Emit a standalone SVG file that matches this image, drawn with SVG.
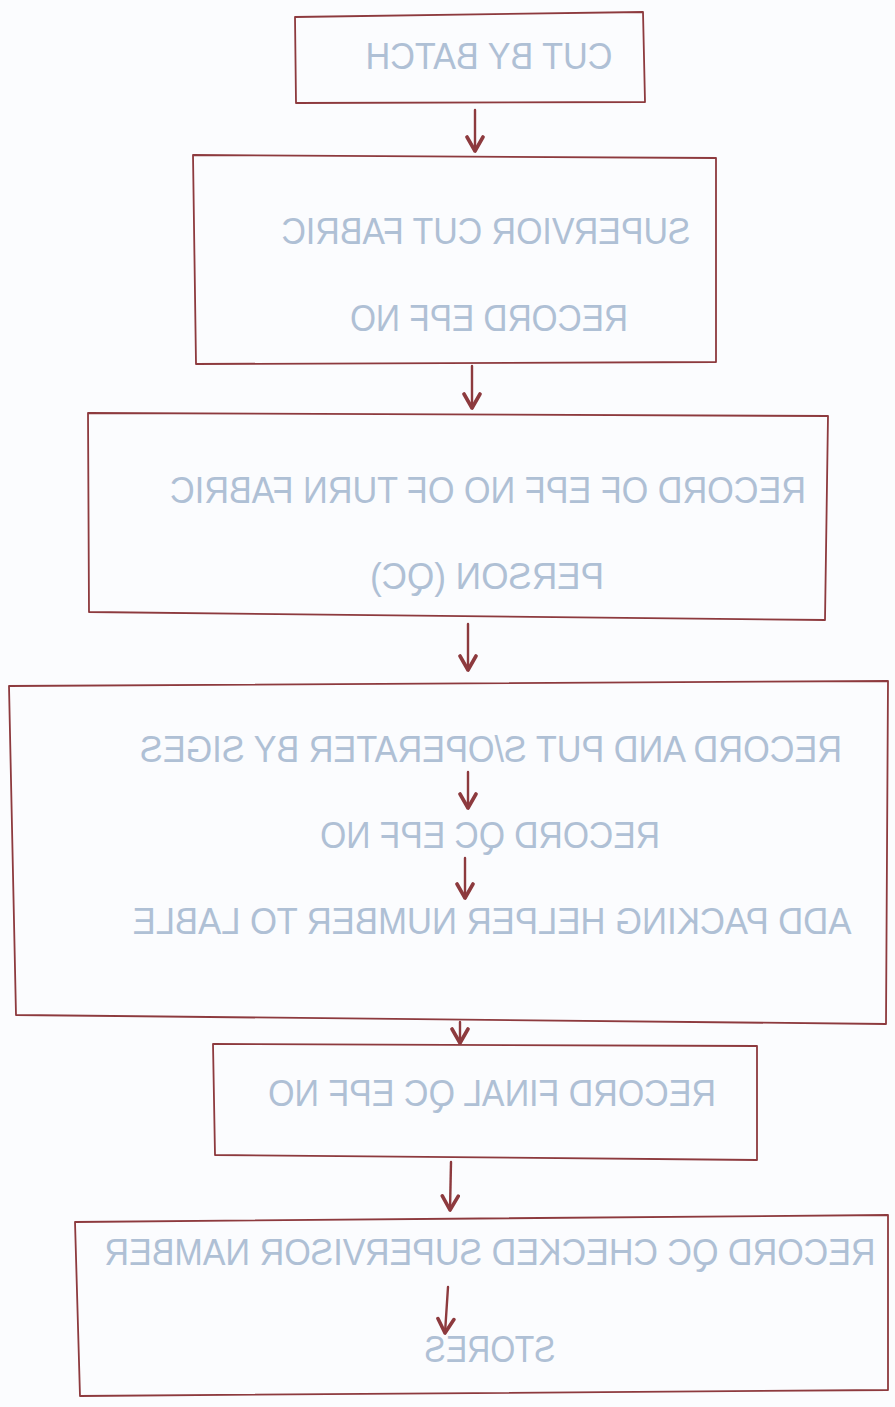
<svg xmlns="http://www.w3.org/2000/svg" width="895" height="1407" viewBox="0 0 895 1407">
<defs>
<style>
.bx{fill:none;stroke:#8d3a3e;stroke-width:1.8;stroke-linejoin:round}
.cn{fill:none;stroke:#8d3a3e;stroke-width:2.4;stroke-linecap:round}
.t{font-family:"Liberation Sans",Arial,sans-serif;font-size:36px;fill:#afc0d5;text-anchor:middle}
</style>
<marker id="ah" viewBox="0 0 20 20" refX="17" refY="10" markerWidth="20" markerHeight="20" markerUnits="userSpaceOnUse" orient="auto">
<polyline points="3,2 17,10 3,18" fill="none" stroke="#8d3a3e" stroke-width="3.6" stroke-linecap="round" stroke-linejoin="round"/>
</marker>
</defs>
<rect width="895" height="1407" fill="#fbfcfe"/>
<g id="connectors">
<line class="cn" x1="475" y1="110" x2="475" y2="151" marker-end="url(#ah)"/>
<line class="cn" x1="472" y1="366" x2="472" y2="408" marker-end="url(#ah)"/>
<line class="cn" x1="468" y1="624" x2="468" y2="670" marker-end="url(#ah)"/>
<line class="cn" x1="468" y1="772" x2="468" y2="808" marker-end="url(#ah)"/>
<line class="cn" x1="465" y1="858" x2="465" y2="898" marker-end="url(#ah)"/>
<line class="cn" x1="460" y1="1022" x2="460" y2="1043" marker-end="url(#ah)"/>
<line class="cn" x1="451" y1="1162" x2="450" y2="1210" marker-end="url(#ah)"/>
<line class="cn" x1="448" y1="1287" x2="445" y2="1333" marker-end="url(#ah)"/>
</g>
<g id="n1">
<path class="bx" d="M295,17 L643,12 L645,102 L296,103 Z"/>
<text class="t" transform="translate(489,69) scale(-1,1)" textLength="247" lengthAdjust="spacingAndGlyphs">CUT BY BATCH</text>
</g>
<g id="n2">
<path class="bx" d="M193,155 L716,158 L716,362 L196,364 Z"/>
<text class="t" transform="translate(486,244) scale(-1,1)" textLength="409" lengthAdjust="spacingAndGlyphs">SUPERVIOR CUT FABRIC</text>
<text class="t" transform="translate(489,331) scale(-1,1)" textLength="278" lengthAdjust="spacingAndGlyphs">RECORD EPF NO</text>
</g>
<g id="n3">
<path class="bx" d="M88,413 L828,416 L825,620 L89,612 Z"/>
<text class="t" transform="translate(488,503) scale(-1,1)" textLength="636" lengthAdjust="spacingAndGlyphs">RECORD OF EPF NO OF TURN FABRIC</text>
<text class="t" transform="translate(487,589) scale(-1,1)" textLength="234" lengthAdjust="spacingAndGlyphs">PERSON (QC)</text>
</g>
<g id="n4">
<path class="bx" d="M9,686 L888,681 L886,1024 L16,1015 Z"/>
<text class="t" transform="translate(491,762) scale(-1,1)" textLength="702" lengthAdjust="spacingAndGlyphs">RECORD AND PUT S/OPERATER BY SIGES</text>
<text class="t" transform="translate(490,848) scale(-1,1)" textLength="340" lengthAdjust="spacingAndGlyphs">RECORD QC EPF NO</text>
<text class="t" transform="translate(492,934) scale(-1,1)" textLength="719" lengthAdjust="spacingAndGlyphs">ADD PACKING HELPER NUMBER TO LABLE</text>
</g>
<g id="n5">
<path class="bx" d="M213,1044 L757,1046 L757,1160 L215,1155 Z"/>
<text class="t" transform="translate(492,1106) scale(-1,1)" textLength="448" lengthAdjust="spacingAndGlyphs">RECORD FINAL QC EPF NO</text>
</g>
<g id="n6">
<path class="bx" d="M75,1222 L888,1215 L888,1390 L80,1396 Z"/>
<text class="t" transform="translate(490,1265) scale(-1,1)" textLength="771" lengthAdjust="spacingAndGlyphs">RECORD QC CHECKED SUPERVISOR NAMBER</text>
<text class="t" transform="translate(490,1362) scale(-1,1)" textLength="131" lengthAdjust="spacingAndGlyphs">STORES</text>
</g>
</svg>
